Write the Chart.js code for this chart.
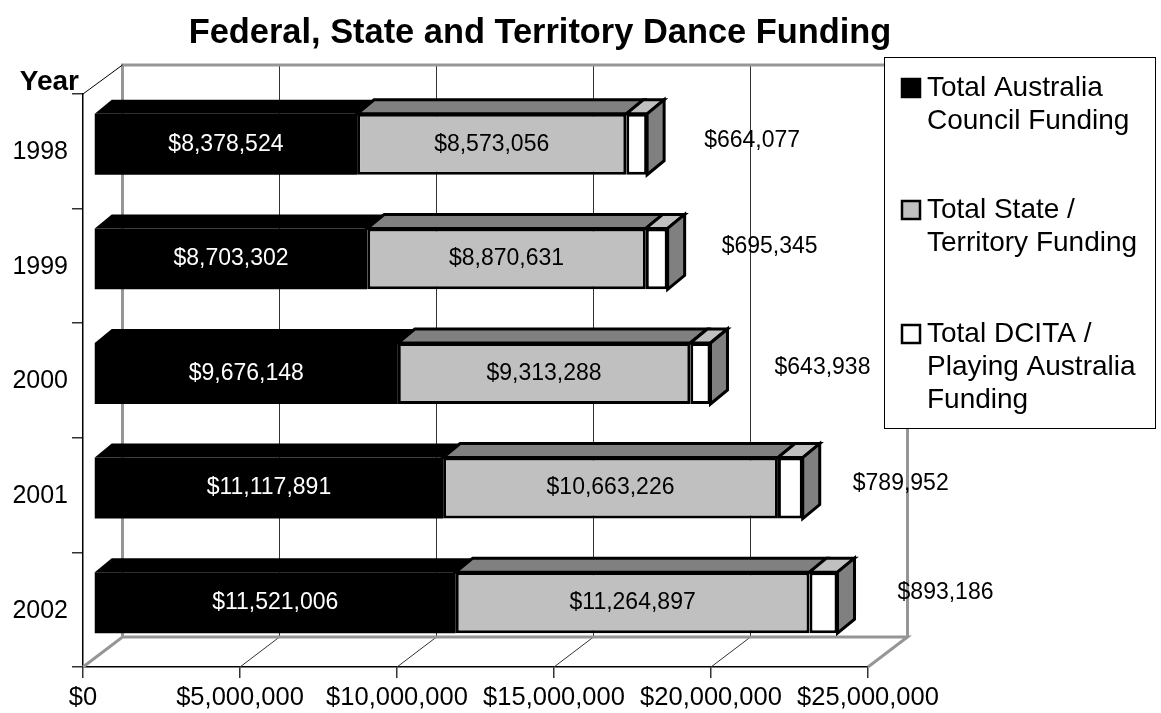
<!DOCTYPE html>
<html>
<head>
<meta charset="utf-8">
<title>Federal, State and Territory Dance Funding</title>
<script src="https://cdn.jsdelivr.net/npm/chart.js@4/dist/chart.umd.min.js"></script>
<style>
  html, body { margin: 0; padding: 0; background: #fff; }
  #wrap { position: relative; width: 1161px; height: 713px; }
</style>
</head>
<body>
<div id="wrap"><canvas id="barchart"></canvas></div>
<script>
const years = ["1998", "1999", "2000", "2001", "2002"];
const australiaCouncil = [8378524, 8703302, 9676148, 11117891, 11521006];
const stateTerritory = [8573056, 8870631, 9313288, 10663226, 11264897];
const dcitaPlaying = [664077, 695345, 643938, 789952, 893186];
const axisTicks = [0, 5000000, 10000000, 15000000, 20000000, 25000000];
const legendLines = [
  ["Total Australia", "Council Funding"],
  ["Total State /", "Territory Funding"],
  ["Total DCITA /", "Playing Australia", "Funding"]
];

const FONT = "'Liberation Sans', Arial, sans-serif";
Chart.defaults.font.family = FONT;
Chart.defaults.color = "#000";

const money = v => "$" + Number(v).toLocaleString("en-US");

// front of the bars sits a little inside the floor, wall sits behind them
const barShift = { x: 11, y: -7 };
const barDepth = { x: 17, y: -14 };
const wallShift = { x: 39.5, y: -30 };

// DCITA labels were dragged off their bars, one offset per year
const dcitaOffset = [[105, -4], [102, -12], [112, -6], [98, -4], [108, -10]];

const faceColors = [
  { top: "#000", side: "#000", line: "#000" },
  { top: "#808080", side: "#808080", line: "#000" },
  { top: "#c0c0c0", side: "#808080", line: "#000" }
];

function poly(ctx, pts) {
  ctx.beginPath();
  pts.forEach((p, i) => i ? ctx.lineTo(p[0], p[1]) : ctx.moveTo(p[0], p[1]));
  ctx.closePath();
}

const wallPlugin = {
  id: "wall",
  beforeDatasetsDraw(chart) {
    const { ctx, chartArea: a, scales } = chart;
    const bx = a.left + wallShift.x, by = a.bottom + wallShift.y;
    const ex = a.right + wallShift.x;
    const wallTop = a.top + wallShift.y + 1;
    ctx.save();

    // thin value lines across the floor and up the back wall
    ctx.strokeStyle = "#333";
    ctx.lineWidth = 1;
    axisTicks.slice(1, -1).forEach(v => {
      const x = scales.x.getPixelForValue(v);
      const wx = Math.floor(x + wallShift.x) + 0.5;
      ctx.beginPath();
      ctx.moveTo(x, a.bottom);
      ctx.lineTo(wx, by);
      ctx.lineTo(wx, wallTop);
      ctx.stroke();
    });

    // heavier grey outline of wall and floor
    ctx.strokeStyle = "#969696";
    ctx.lineWidth = 3;
    ctx.beginPath();
    ctx.moveTo(a.left, a.bottom);
    ctx.lineTo(bx, by);
    ctx.lineTo(ex, by);
    ctx.lineTo(a.right, a.bottom);
    ctx.moveTo(bx, by);
    ctx.lineTo(bx, wallTop);
    ctx.lineTo(ex, wallTop);
    ctx.lineTo(ex, by);
    ctx.stroke();

    ctx.strokeStyle = "#000";
    ctx.lineWidth = 1;
    ctx.beginPath();
    ctx.moveTo(a.left, a.top);
    ctx.lineTo(bx, wallTop);
    ctx.stroke();
    ctx.restore();
  }
};

const bar3dPlugin = {
  id: "bar3d",
  beforeDatasetsDraw(chart) {
    const ctx = chart.ctx;
    ctx.save();
    ctx.translate(barShift.x, barShift.y);
    ctx.lineJoin = "miter";
    chart.data.datasets.forEach((ds, i) => {
      const c = faceColors[i];
      chart.getDatasetMeta(i).data.forEach(bar => {
        const top = bar.y - bar.height / 2, bottom = bar.y + bar.height / 2;
        const dx = barDepth.x, dy = barDepth.y;
        ctx.fillStyle = c.top;
        ctx.strokeStyle = c.line;
        ctx.lineWidth = i ? 3 : 0;
        poly(ctx, [[bar.base, top], [bar.base + dx, top + dy], [bar.x + dx, top + dy], [bar.x, top]]);
        ctx.fill();
        if (i) ctx.stroke();
        if (i === 2) {
          ctx.fillStyle = c.side;
          poly(ctx, [[bar.x, top], [bar.x + dx, top + dy], [bar.x + dx, bottom + dy], [bar.x, bottom]]);
          ctx.fill();
          ctx.stroke();
        }
      });
    });
    ctx.restore();
  },
  beforeDatasetDraw(chart) {
    chart.ctx.save();
    chart.ctx.translate(barShift.x, barShift.y);
  },
  afterDatasetDraw(chart) {
    chart.ctx.restore();
  }
};

const labelPlugin = {
  id: "valueLabels",
  afterDatasetsDraw(chart) {
    const ctx = chart.ctx;
    ctx.save();
    ctx.font = "23px " + FONT;
    ctx.textAlign = "center";
    ctx.textBaseline = "middle";
    chart.data.datasets.forEach((ds, i) => {
      chart.getDatasetMeta(i).data.forEach((bar, j) => {
        const text = money(ds.data[j]);
        if (i < 2) {
          ctx.fillStyle = i ? "#000" : "#fff";
          ctx.fillText(text, (bar.x + bar.base) / 2 + barShift.x, bar.y + barShift.y);
        } else {
          ctx.fillStyle = "#000";
          ctx.fillText(text, bar.x + barShift.x + dcitaOffset[j][0], bar.y + barShift.y + dcitaOffset[j][1]);
        }
      });
    });

    // axis caption above the year labels
    ctx.font = "bold 28px " + FONT;
    ctx.textAlign = "right";
    ctx.fillText("Year", 79, 82);
    ctx.restore();
  }
};

const legendPlugin = {
  id: "sideLegend",
  afterDraw(chart) {
    const ctx = chart.ctx;
    ctx.save();
    ctx.fillStyle = "#fff";
    ctx.strokeStyle = "#000";
    ctx.lineWidth = 1;
    ctx.fillRect(884.5, 57.5, 271, 371);
    ctx.strokeRect(884.5, 57.5, 271, 371);

    const firstLine = [88, 210, 334];
    ctx.font = "28px " + FONT;
    ctx.textBaseline = "middle";
    ctx.textAlign = "left";
    legendLines.forEach((lines, i) => {
      const y = firstLine[i];
      ctx.fillStyle = chart.data.datasets[i].backgroundColor;
      ctx.strokeStyle = "#000";
      ctx.lineWidth = 2.5;
      ctx.fillRect(902, y - 9, 18, 18);
      ctx.strokeRect(902, y - 9, 18, 18);
      ctx.fillStyle = "#000";
      lines.forEach((t, k) => ctx.fillText(t, 927, y + k * 33));
    });
    ctx.restore();
  }
};

// title centres over chart plus legend rather than the whole canvas
const titlePlugin = {
  id: "titleSpan",
  afterLayout(chart) {
    chart.titleBlock.left = 0;
    chart.titleBlock.right = 1080;
  }
};

function dataset(label, data, color, borderWidth) {
  return {
    label: label,
    data: data,
    backgroundColor: color,
    borderColor: "#000",
    borderWidth: borderWidth,
    borderSkipped: false,
    barPercentage: 0.532,
    categoryPercentage: 1,
    clip: false
  };
}

const ctx = document.getElementById("barchart").getContext("2d");
const barchart = new Chart(ctx, {
  type: "bar",
  data: {
    labels: years,
    datasets: [
      dataset("Total Australia Council Funding", australiaCouncil, "#000000", 0),
      dataset("Total State / Territory Funding", stateTerritory, "#c0c0c0", 3),
      dataset("Total DCITA / Playing Australia Funding", dcitaPlaying, "#ffffff", 3)
    ]
  },
  options: {
    indexAxis: "y",
    responsive: true,
    maintainAspectRatio: false,
    animation: false,
    layout: { padding: { right: 293 } },
    plugins: {
      legend: { display: false },
      tooltip: { enabled: false },
      title: {
        display: true,
        text: "Federal, State and Territory Dance Funding",
        font: { size: 34.4, weight: "bold" },
        color: "#000",
        padding: { top: 13, bottom: 39.7 }
      }
    },
    scales: {
      x: {
        stacked: true,
        min: 0,
        max: 25000000,
        afterFit(scale) { scale.height = 46; },
        afterBuildTicks(scale) { scale.ticks = axisTicks.map(v => ({ value: v })); },
        border: { color: "#000", width: 1.5 },
        grid: { drawOnChartArea: false, drawTicks: true, tickLength: 11, color: "#333", lineWidth: 1.5 },
        ticks: {
          autoSkip: false,
          maxRotation: 0,
          padding: 5,
          font: { size: 25.5 },
          callback: v => money(v)
        }
      },
      y: {
        stacked: true,
        afterFit(scale) { scale.width = 83; },
        border: { color: "#000", width: 1.5 },
        grid: { drawOnChartArea: false, drawTicks: true, tickLength: 11, color: "#333", lineWidth: 1.5 },
        ticks: { padding: 4, labelOffset: 1, font: { size: 25 } }
      }
    }
  },
  plugins: [titlePlugin, wallPlugin, bar3dPlugin, labelPlugin, legendPlugin]
});
</script>
</body>
</html>
